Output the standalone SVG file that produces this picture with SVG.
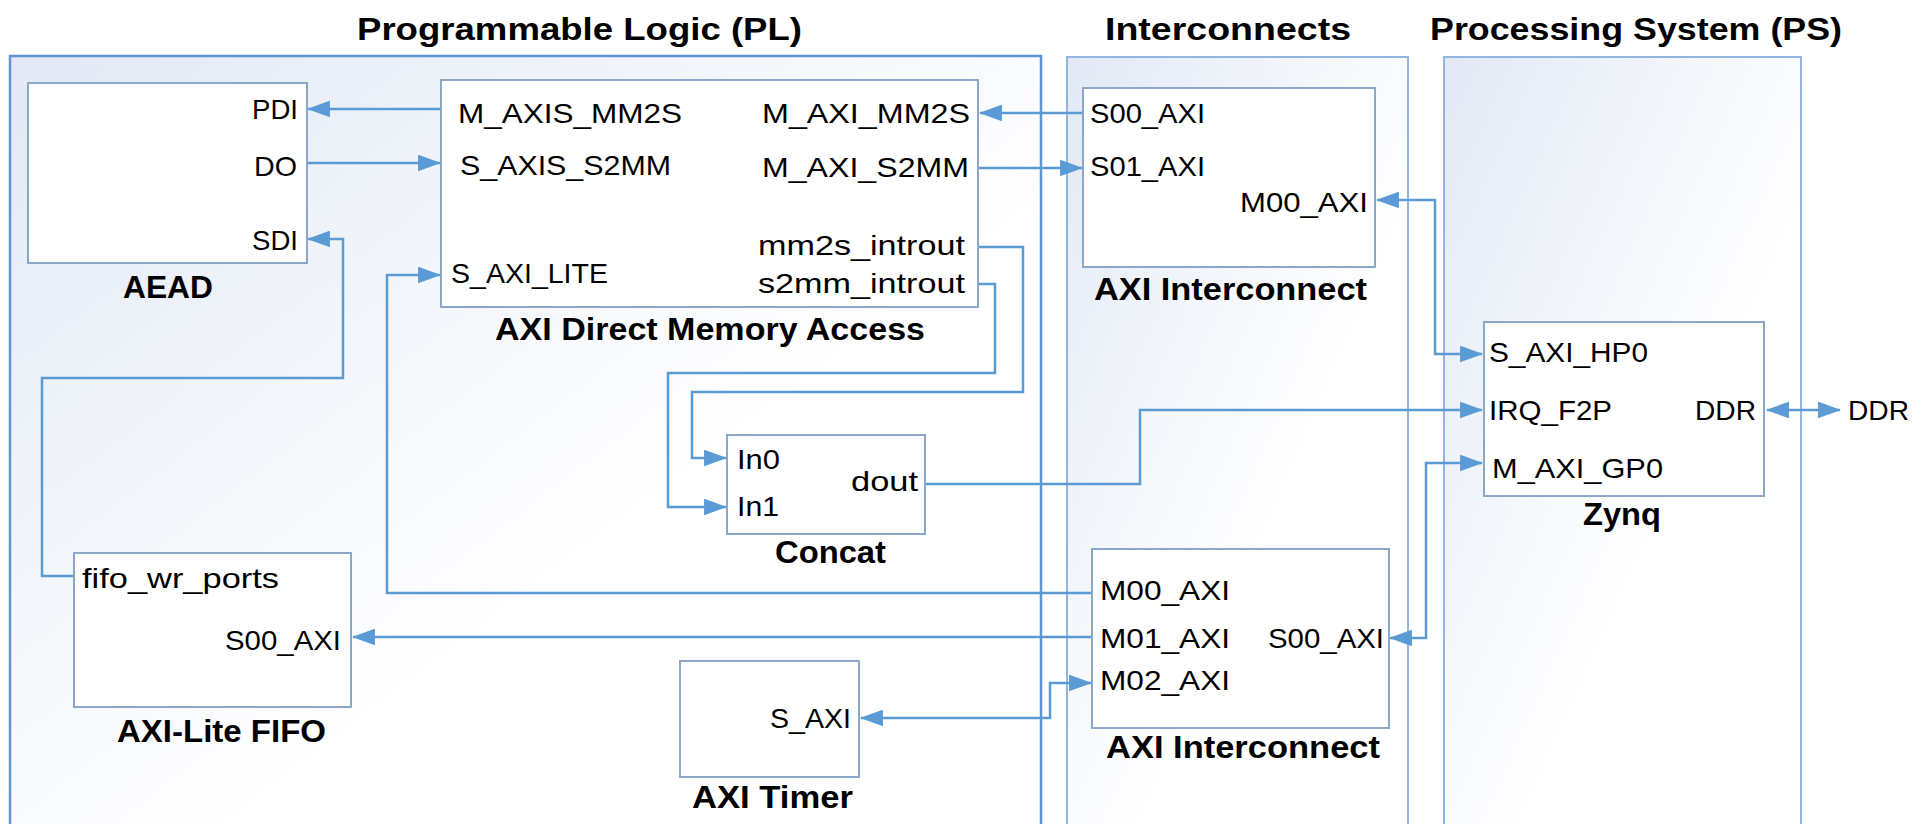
<svg xmlns="http://www.w3.org/2000/svg" width="1925" height="824" viewBox="0 0 1925 824">
<defs>
  <linearGradient id="pg" x1="0" y1="0" x2="1" y2="1">
    <stop offset="0" stop-color="#e2e9f5"/>
    <stop offset="0.6" stop-color="#ffffff"/>
    <stop offset="1" stop-color="#ffffff"/>
  </linearGradient>
  <marker id="ah" markerUnits="userSpaceOnUse" markerWidth="23" markerHeight="17" viewBox="0 0 22 16" refX="21" refY="8" orient="auto-start-reverse">
    <path d="M0,0 L22,8 L0,16 z" fill="#5b9bd5"/>
  </marker>
  <style>
    .panel-main { fill: url(#pg); stroke: #5f95d3; stroke-width: 2.5; }
    .panel { fill: url(#pg); stroke: #92b6e0; stroke-width: 2; }
    .box { fill: #ffffff; stroke: #8ba7c9; stroke-width: 2; }
    .title { font-family: "Liberation Sans", Arial, sans-serif; font-weight: bold; font-size: 32px; fill: #000; }
    .lbl { font-family: "Liberation Sans", Arial, sans-serif; font-weight: bold; font-size: 31px; fill: #000; }
    .port { font-family: "Liberation Sans", Arial, sans-serif; font-size: 28px; fill: #000; }
    .wire { fill: none; stroke: #5b9bd5; stroke-width: 2.5; }
    .arr { marker-end: url(#ah); }
    .bi { marker-start: url(#ah); marker-end: url(#ah); }
  </style>
</defs>
<rect width="1925" height="824" fill="#ffffff"/>

<g id="panels">
  <rect class="panel-main" x="10" y="56" width="1031" height="790"/>
  <rect class="panel" x="1067" y="57" width="341" height="790"/>
  <rect class="panel" x="1444" y="57" width="357" height="790"/>
  <text class="title" x="357" y="40" textLength="445" lengthAdjust="spacingAndGlyphs">Programmable Logic (PL)</text>
  <text class="title" x="1105" y="40" textLength="246" lengthAdjust="spacingAndGlyphs">Interconnects</text>
  <text class="title" x="1430" y="40" textLength="412" lengthAdjust="spacingAndGlyphs">Processing System (PS)</text>
</g>

<g id="connectors">
  <path class="wire arr" d="M441,109 H308"/>
  <path class="wire arr" d="M307,163 H440"/>
  <path class="wire arr" d="M74,576 H42 V378 H343 V239 H308"/>
  <path class="wire arr" d="M1092,593 H387 V275 H440"/>
  <path class="wire arr" d="M1083,113 H980"/>
  <path class="wire arr" d="M978,168 H1082"/>
  <path class="wire arr" d="M978,247 H1023 V392 H692 V458 H726"/>
  <path class="wire arr" d="M978,284 H995 V373 H668 V507 H726"/>
  <path class="wire arr" d="M925,484 H1140 V410 H1482"/>
  <path class="wire bi" d="M1377,200 H1435 V354 H1482"/>
  <path class="wire bi" d="M1767,410 H1840"/>
  <path class="wire bi" d="M1390,638 H1426 V463 H1482"/>
  <path class="wire arr" d="M1092,637 H353"/>
  <path class="wire bi" d="M861,718 H1050 V683 H1091"/>
  <text class="port" x="1848" y="420" textLength="61" lengthAdjust="spacingAndGlyphs">DDR</text>
</g>

<g id="aead">
  <rect class="box" x="28" y="83" width="279" height="180"/>
  <text class="port" x="252" y="119" textLength="46" lengthAdjust="spacingAndGlyphs">PDI</text>
  <text class="port" x="254" y="176" textLength="43" lengthAdjust="spacingAndGlyphs">DO</text>
  <text class="port" x="252" y="250" textLength="46" lengthAdjust="spacingAndGlyphs">SDI</text>
  <text class="lbl" x="123" y="298" textLength="90" lengthAdjust="spacingAndGlyphs">AEAD</text>
</g>

<g id="dma">
  <rect class="box" x="441" y="80" width="537" height="227"/>
  <text class="port" x="458" y="123" textLength="224" lengthAdjust="spacingAndGlyphs">M_AXIS_MM2S</text>
  <text class="port" x="460" y="175" textLength="211" lengthAdjust="spacingAndGlyphs">S_AXIS_S2MM</text>
  <text class="port" x="451" y="283" textLength="157" lengthAdjust="spacingAndGlyphs">S_AXI_LITE</text>
  <text class="port" x="762" y="123" textLength="208" lengthAdjust="spacingAndGlyphs">M_AXI_MM2S</text>
  <text class="port" x="762" y="177" textLength="207" lengthAdjust="spacingAndGlyphs">M_AXI_S2MM</text>
  <text class="port" x="758" y="255" textLength="207" lengthAdjust="spacingAndGlyphs">mm2s_introut</text>
  <text class="port" x="758" y="293" textLength="207" lengthAdjust="spacingAndGlyphs">s2mm_introut</text>
  <text class="lbl" x="495" y="340" textLength="430" lengthAdjust="spacingAndGlyphs">AXI Direct Memory Access</text>
</g>

<g id="interconnect1">
  <rect class="box" x="1083" y="88" width="292" height="179"/>
  <text class="port" x="1090" y="123" textLength="115" lengthAdjust="spacingAndGlyphs">S00_AXI</text>
  <text class="port" x="1090" y="176" textLength="115" lengthAdjust="spacingAndGlyphs">S01_AXI</text>
  <text class="port" x="1240" y="212" textLength="128" lengthAdjust="spacingAndGlyphs">M00_AXI</text>
  <text class="lbl" x="1094" y="300" textLength="273" lengthAdjust="spacingAndGlyphs">AXI Interconnect</text>
</g>

<g id="zynq">
  <rect class="box" x="1484" y="322" width="280" height="174"/>
  <text class="port" x="1489" y="362" textLength="159" lengthAdjust="spacingAndGlyphs">S_AXI_HP0</text>
  <text class="port" x="1489" y="420" textLength="123" lengthAdjust="spacingAndGlyphs">IRQ_F2P</text>
  <text class="port" x="1695" y="420" textLength="61" lengthAdjust="spacingAndGlyphs">DDR</text>
  <text class="port" x="1492" y="478" textLength="171" lengthAdjust="spacingAndGlyphs">M_AXI_GP0</text>
  <text class="lbl" x="1583" y="525" textLength="78" lengthAdjust="spacingAndGlyphs">Zynq</text>
</g>

<g id="concat">
  <rect class="box" x="727" y="435" width="198" height="99"/>
  <text class="port" x="737" y="469" textLength="43" lengthAdjust="spacingAndGlyphs">In0</text>
  <text class="port" x="737" y="516" textLength="42" lengthAdjust="spacingAndGlyphs">In1</text>
  <text class="port" x="851" y="491" textLength="67" lengthAdjust="spacingAndGlyphs">dout</text>
  <text class="lbl" x="775" y="563" textLength="111" lengthAdjust="spacingAndGlyphs">Concat</text>
</g>

<g id="interconnect2">
  <rect class="box" x="1092" y="549" width="297" height="179"/>
  <text class="port" x="1100" y="600" textLength="130" lengthAdjust="spacingAndGlyphs">M00_AXI</text>
  <text class="port" x="1100" y="648" textLength="130" lengthAdjust="spacingAndGlyphs">M01_AXI</text>
  <text class="port" x="1100" y="690" textLength="130" lengthAdjust="spacingAndGlyphs">M02_AXI</text>
  <text class="port" x="1268" y="648" textLength="116" lengthAdjust="spacingAndGlyphs">S00_AXI</text>
  <text class="lbl" x="1106" y="758" textLength="274" lengthAdjust="spacingAndGlyphs">AXI Interconnect</text>
</g>

<g id="timer">
  <rect class="box" x="680" y="661" width="179" height="116"/>
  <text class="port" x="770" y="728" textLength="81" lengthAdjust="spacingAndGlyphs">S_AXI</text>
  <text class="lbl" x="692" y="808" textLength="161" lengthAdjust="spacingAndGlyphs">AXI Timer</text>
</g>

<g id="fifo">
  <rect class="box" x="74" y="553" width="277" height="154"/>
  <text class="port" x="82" y="588" textLength="197" lengthAdjust="spacingAndGlyphs">fifo_wr_ports</text>
  <text class="port" x="225" y="650" textLength="116" lengthAdjust="spacingAndGlyphs">S00_AXI</text>
  <text class="lbl" x="117" y="742" textLength="209" lengthAdjust="spacingAndGlyphs">AXI-Lite FIFO</text>
</g>
</svg>
